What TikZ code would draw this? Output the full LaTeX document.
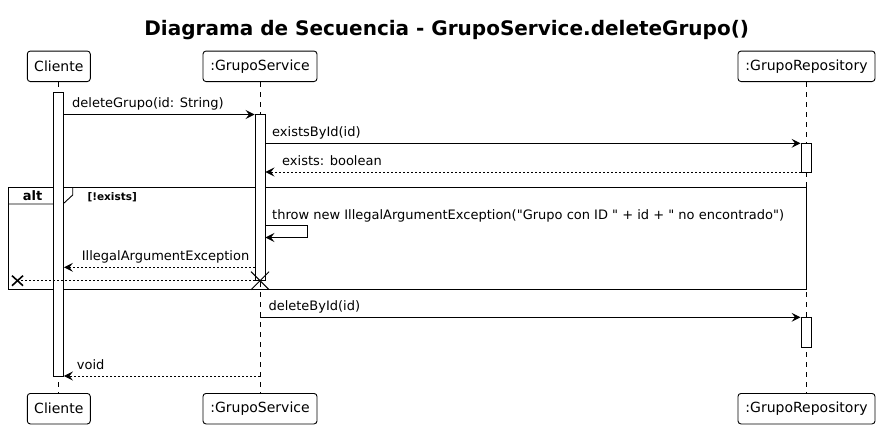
\documentclass[tikz,border=0pt]{standalone}
\usepackage{fontspec}
\setmainfont{DejaVu Sans}[Ligatures=TeXOff]
\usetikzlibrary{arrows.meta,calc}
\begin{document}
\begin{tikzpicture}[x=1pt,y=1pt,
  every node/.style={font=\fontsize{13}{15}\selectfont, inner sep=0pt},
  partbox/.style={draw, line width=0.9pt, rounded corners=3pt, minimum height=30.5pt,
    font=\fontsize{14}{16}\selectfont, anchor=center},
  lifeline/.style={line width=0.9pt, dash pattern=on 5pt off 5pt},
  actbox/.style={draw, fill=white, line width=0.9pt, minimum width=10pt},
  msg/.style={line width=0.9pt, -{Stealth[length=9pt,width=9pt,inset=3.5pt]}},
  ret/.style={msg, dash pattern=on 2pt off 2pt},
  lbl/.style={anchor=base west},
  xmark/.style={line width=1pt},
]
\useasboundingbox (0,0) rectangle (880,-429);
% title
\node[font=\bfseries\fontsize{20}{24}\selectfont, anchor=base] (title) at (446.7,-35) {Diagrama de Secuencia - GrupoService.deleteGrupo()};

% participants
\node[partbox, minimum width=63pt] (cT) at (58.8,-66.3) {Cliente};
\node[partbox, minimum width=114pt] (sT) at (260,-66.3) {:GrupoService};
\node[partbox, minimum width=137pt] (rT) at (806.5,-66.3) {:GrupoRepository};
\node[partbox, minimum width=63pt] (cB) at (58.8,-408.7) {Cliente};
\node[partbox, minimum width=114pt] (sB) at (260,-408.7) {:GrupoService};
\node[partbox, minimum width=137pt] (rB) at (806.5,-408.7) {:GrupoRepository};

% lifelines
\draw[lifeline] (cT.south -| 58.5,0) -- (cB.north -| 58.5,0);
\draw[lifeline] (sT.south) -- (sB.north);
\draw[lifeline] (rT.south -| 806,0) -- (rB.north -| 806,0);

% alt frame
\coordinate (fTL) at (8,-187.3);
\coordinate (fBR) at (806,-289.3);
\draw[line width=0.9pt] (fTL) rectangle (fBR);
\draw[line width=0.9pt] (8,-204) -- (63,-204) -- (72.7,-195) -- (72.7,-187.3);
\node[font=\bfseries\fontsize{13}{15}\selectfont, anchor=base] (altlbl) at (32.5,-200) {alt};
\node[font=\bfseries\fontsize{10.5}{12}\selectfont, anchor=base west] (guard) at (87.3,-200) {[!exists]};

% activation bars
\node[actbox, minimum height=283.3pt] (cA) at (58.5,-234.35) {};
\node[actbox, minimum height=166pt] (sA) at (260,-197.7) {};
\node[actbox, minimum height=28.7pt] (rA1) at (806,-157.65) {};
\node[actbox, minimum height=30pt] (rA2) at (806,-332.3) {};

% message rows
\coordinate (y1) at (0,-114.5);
\coordinate (y2) at (0,-143.3);
\coordinate (y3) at (0,-172);
\coordinate (y4a) at (0,-225.7);
\coordinate (y4b) at (0,-237.5);
\coordinate (y5) at (0,-267.3);
\coordinate (y6) at (0,-280.7);
\coordinate (y7) at (0,-317.3);
\coordinate (y8) at (0,-376);
\coordinate (selfR) at (307,0);
\coordinate (lost) at (17.5,-280.7);

\draw[msg] (cA.east |- y1) -- (sA.west |- y1);
\node[lbl] (l1) at (72,-107.8) {deleteGrupo(id: String)};

\draw[msg] (sA.east |- y2) -- (rA1.west |- y2);
\node[lbl] (l2) at (272,-136.6) {existsById(id)};

\draw[ret] (rA1.west |- y3) -- (sA.east |- y3);
\node[lbl] (l3) at (282,-165.4) {exists: boolean};

\draw[msg] (sA.east |- y4a) -- (selfR |- y4a) -- (selfR |- y4b) -- (sA.east |- y4b);
\node[lbl] (l4) at (272,-219) {throw new IllegalArgumentException("Grupo con ID " + id + " no encontrado")};

\draw[ret] (sA.west |- y5) -- (cA.east |- y5);
\node[lbl] (l5) at (81.7,-260.6) {IllegalArgumentException};

\draw[line width=0.9pt, dash pattern=on 2pt off 2pt] (sA.west |- y6) -- (lost);
\draw[line width=1.6pt] ($(lost)+(-5.5,5)$) -- ($(lost)+(5.5,-5)$);
\draw[line width=1.6pt] ($(lost)+(-5.5,-5)$) -- ($(lost)+(5.5,5)$);

% destroy mark on service
\coordinate (dX) at (260,-280.7);
\draw[xmark] ($(dX)+(-9,9)$) -- ($(dX)+(9,-9)$);
\draw[xmark] ($(dX)+(-9,-9)$) -- ($(dX)+(9,9)$);

\draw[msg] (sT.south |- y7) -- (rA2.west |- y7);
\node[lbl] (l7) at (268.3,-310.6) {deleteById(id)};

\draw[ret] (sT.south |- y8) -- (cA.east |- y8);
\node[lbl] (l8) at (76.7,-369.4) {void};
\end{tikzpicture}
\end{document}
